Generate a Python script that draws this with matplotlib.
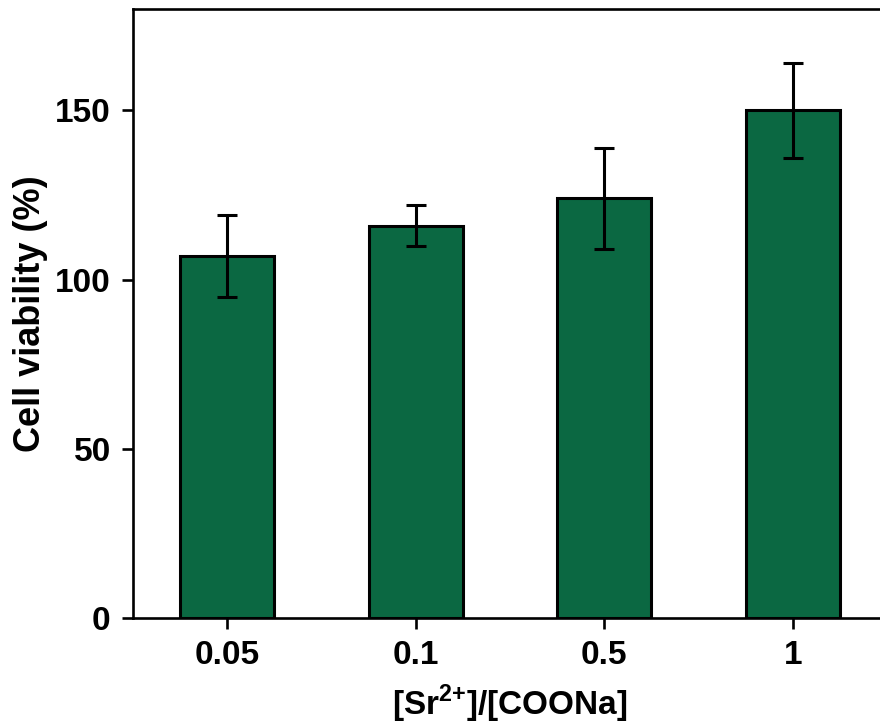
import matplotlib.pyplot as plt

plt.rcParams['font.family'] = ['Liberation Sans', 'DejaVu Sans']
plt.rcParams['font.weight'] = 'bold'
plt.rcParams['mathtext.fontset'] = 'custom'
plt.rcParams['mathtext.rm'] = 'Liberation Sans:bold'
plt.rcParams['mathtext.bf'] = 'Liberation Sans:bold'

ratios = ['0.05', '0.1', '0.5', '1']
viability = [107, 116, 124, 150]
err_low = [12, 6, 15, 14]
err_high = [12, 6, 15, 14]

fig = plt.figure(figsize=(8.8, 7.26), dpi=100)
# right spine sits just past the figure edge
ax = fig.add_axes([0.1511, 0.1488, 0.857, 0.8388])

pos = list(range(1, len(ratios) + 1))
ax.bar(pos, viability, width=0.5, color='#0b6842', edgecolor='black', linewidth=2.2,
       yerr=[err_low, err_high], capsize=7,
       error_kw={'elinewidth': 2.2, 'capthick': 2.2, 'ecolor': 'black'})

ax.set_xlim(0.5, 4.5)
ax.set_ylim(0, 180)
ax.set_xticks(pos)
ax.set_xticklabels(ratios)
ax.set_yticks([0, 50, 100, 150])

for s in ax.spines.values():
    s.set_linewidth(1.9)
ax.tick_params(direction='out', length=8, width=1.9, labelsize=24, pad=8)

ax.set_xlabel('[Sr$^{\\mathrm{2{+}}}$]/[COONa]', fontsize=24, fontweight='bold', labelpad=8)
ax.set_ylabel('Cell viability (%)', fontsize=26, fontweight='bold', labelpad=5)

fig.savefig('out.png', dpi=100)
